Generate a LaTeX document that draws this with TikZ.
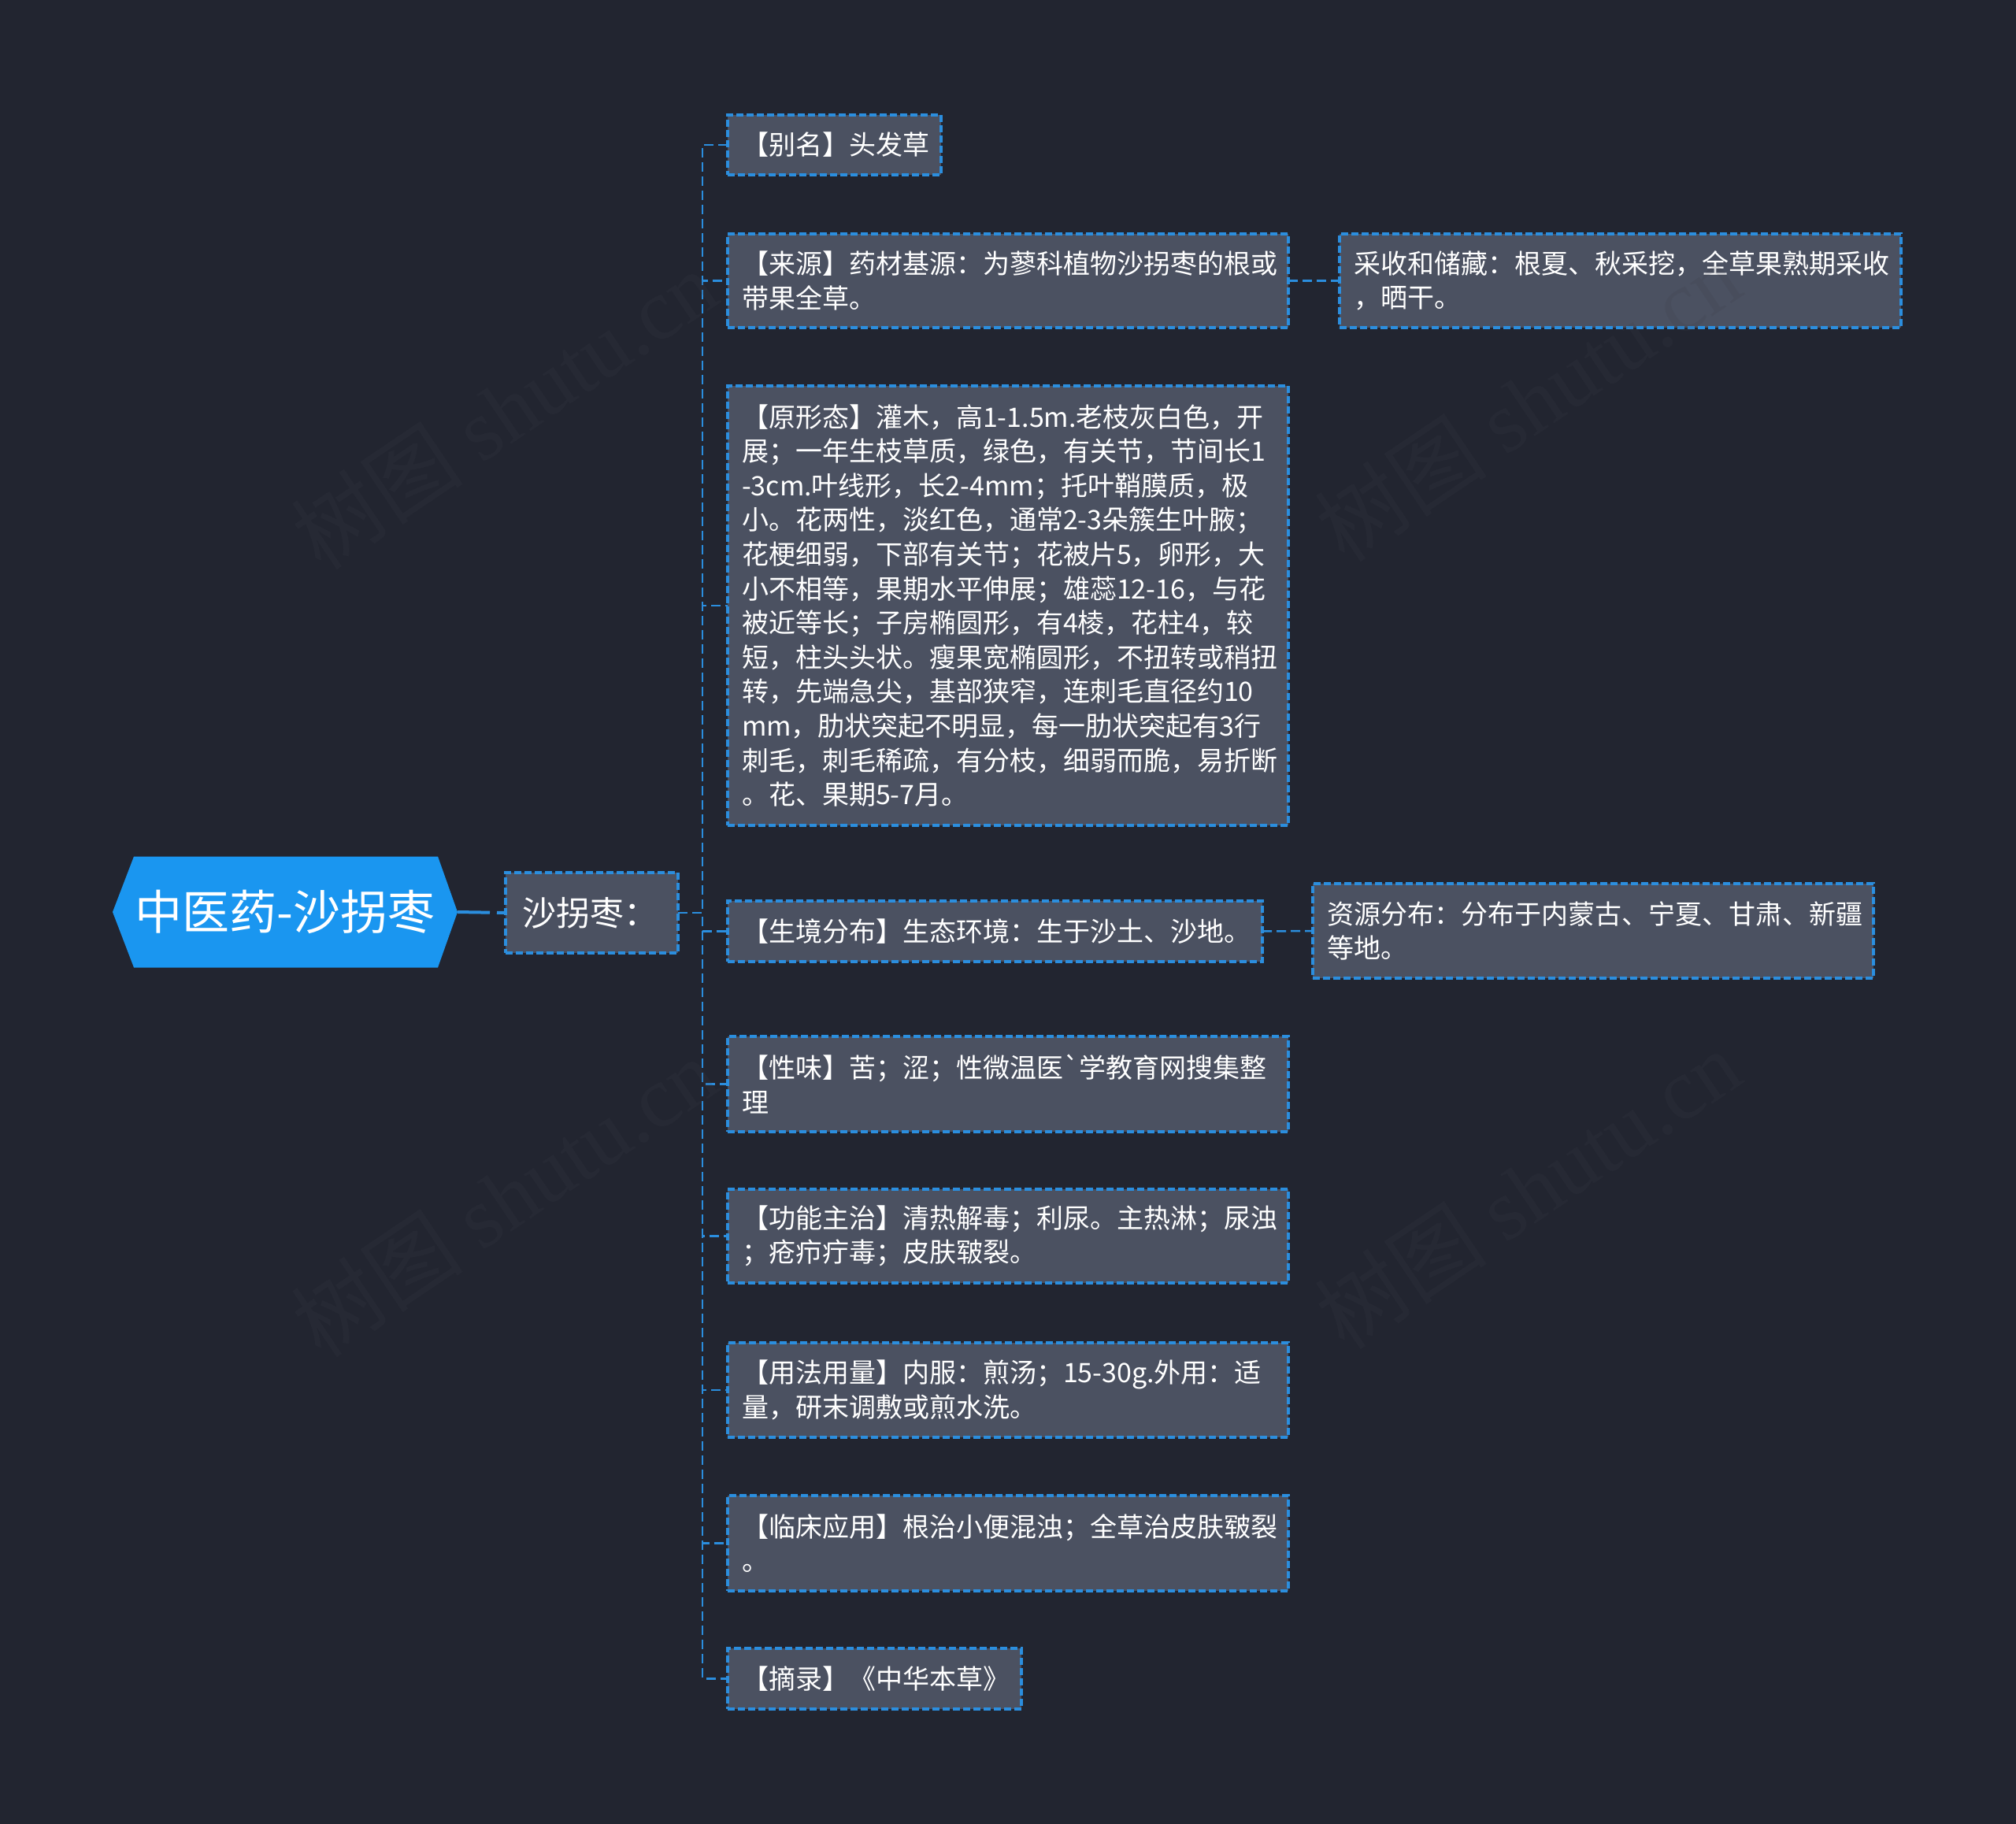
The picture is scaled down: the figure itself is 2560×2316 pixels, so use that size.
\documentclass[tikz,border=0pt]{standalone}
\usepackage{fontspec}
\setmainfont{Noto Sans CJK SC}
\newfontfamily\plainfont{Noto Sans CJK SC}
\newfontfamily\wmfont{Liberation Serif}
\usetikzlibrary{backgrounds}
\definecolor{bgc}{RGB}{34,37,48}
\definecolor{boxc}{RGB}{75,81,97}
\definecolor{bluec}{RGB}{43,142,222}
\definecolor{rootc}{RGB}{26,150,240}
\definecolor{wmc}{RGB}{60,63,74}
\begin{document}
\begin{tikzpicture}[x=1pt,y=-1pt,
  leaf/.style={draw=bluec, fill=boxc, line width=3.2pt, dash pattern=on 9pt off 4pt,
    anchor=west, inner xsep=18pt, inner ysep=0pt, outer sep=0pt, align=left,
    text=white, font=\fontsize{34}{43.6}\selectfont},
  conn/.style={draw=bluec, line width=2.5pt, dash pattern=on 12pt off 6pt},
  wm/.style={rotate=34, text=wmc, text opacity=0.18, font=\fontsize{110}{110}\selectfont}]
\begin{scope}[on background layer]
\fill[bgc] (0,0) rectangle (2560,2316);
\end{scope}
\useasboundingbox (0,0) rectangle (2560,2316);

% root
\node[minimum width=438pt, minimum height=141pt, inner sep=0pt, outer sep=0pt,
  text=white, font=\fontsize{60}{60}\selectfont] (root) at (362,1158) {中医药-沙拐枣};
\begin{scope}[on background layer]
\fill[rootc] (root.west) -- ([xshift=27pt]root.north west) -- ([xshift=-25pt]root.north east)
  -- (root.east) -- ([xshift=-25pt]root.south east) -- ([xshift=27pt]root.south west) -- cycle;
\end{scope}

% level 1
\node[leaf, inner xsep=21pt, text width=177pt, minimum height=102pt,
  font=\fontsize{43}{43}\selectfont] (sub) at (642,1159) {沙拐枣：};

% leaves
\node[leaf, text width=235pt, minimum height=76pt] (n1) at (924,184) {【别名】头发草};
\node[leaf, text width=676pt, minimum height=119pt] (n2) at (924,356.5)
  {【来源】药材基源：为蓼科植物沙拐枣的根或\\带果全草。};
\node[leaf, text width=677pt, minimum height=119pt] (n2b) at (1701,356.5)
  {采收和储藏：根夏、秋采挖，全草果熟期采收\\，晒干。};
\node[leaf, text width=676pt, minimum height=558pt] (n3) at (924,769)
  {【原形态】灌木，高1-1.5m.老枝灰白色，开\\
   展；一年生枝草质，绿色，有关节，节间长1\\
   -3cm.叶线形，长2-4mm；托叶鞘膜质，极\\
   小。花两性，淡红色，通常2-3朵簇生叶腋；\\
   花梗细弱，下部有关节；花被片5，卵形，大\\
   小不相等，果期水平伸展；雄蕊12-16，与花\\
   被近等长；子房椭圆形，有4棱，花柱4，较\\
   短，柱头头状。瘦果宽椭圆形，不扭转或稍扭\\
   转，先端急尖，基部狭窄，连刺毛直径约10\\
   mm，肋状突起不明显，每一肋状突起有3行\\
   刺毛，刺毛稀疏，有分枝，细弱而脆，易折断\\
   。花、果期5-7月。};
\node[leaf, text width=643pt, minimum height=77pt] (n4) at (924,1182.5)
  {【生境分布】生态环境：生于沙土、沙地。};
\node[leaf, text width=676pt, minimum height=120pt] (n4b) at (1667,1182)
  {资源分布：分布于内蒙古、宁夏、甘肃、新疆\\等地。};
\node[leaf, text width=676pt, minimum height=121pt] (n5) at (924,1376.5)
  {【性味】苦；涩；性微温医{\plainfont`}学教育网搜集整\\理};
\node[leaf, text width=676pt, minimum height=119pt] (n6) at (924,1569.5)
  {【功能主治】清热解毒；利尿。主热淋；尿浊\\；疮疖疔毒；皮肤皲裂。};
\node[leaf, text width=676pt, minimum height=120pt] (n7) at (924,1765)
  {【用法用量】内服：煎汤；15-30g.外用：适\\量，研末调敷或煎水洗。};
\node[leaf, text width=676pt, minimum height=121pt] (n8) at (924,1959.5)
  {【临床应用】根治小便混浊；全草治皮肤皲裂\\。};
\node[leaf, text width=337pt, minimum height=77pt] (n9) at (924,2131.5)
  {【摘录】《中华本草》};

% connectors
\begin{scope}[on background layer]
\draw[bluec, line width=4pt, dash pattern=on 41pt off 9pt on 14pt off 60pt] (root.east) -- (sub.west);
\foreach \n in {n1,n2,n3,n4,n5,n6,n7,n8,n9}
  \draw[conn] (sub.east) -- ++(31,0) |- (\n.west);
\draw[conn] (n2.east) -- (n2b.west);
\draw[conn] (n4.east) -- (n4b.west);
\end{scope}

% watermarks
\node[wm] (wm1) at (640,520) {树图 {\wmfont shutu.cn}};
\node[wm] (wm2) at (1940,510) {树图 {\wmfont shutu.cn}};
\node[wm] (wm3) at (640,1520) {树图 {\wmfont shutu.cn}};
\node[wm] (wm4) at (1940,1510) {树图 {\wmfont shutu.cn}};
\end{tikzpicture}
\end{document}
